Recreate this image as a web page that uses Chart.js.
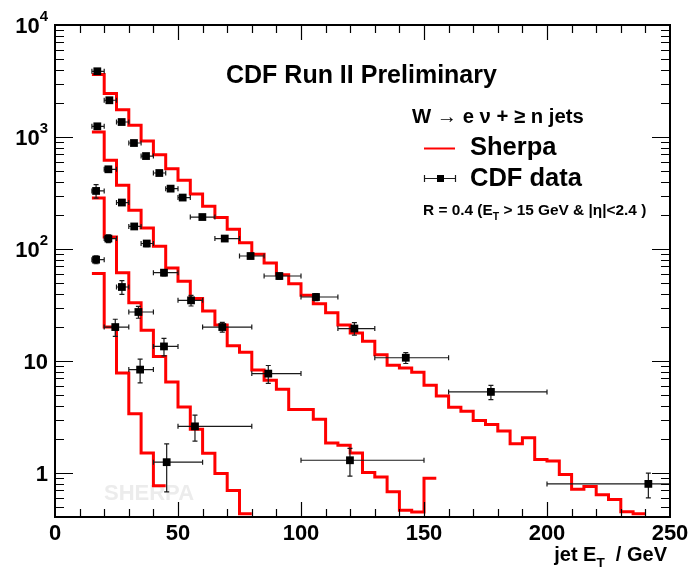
<!DOCTYPE html>
<html>
<head>
<meta charset="utf-8">
<title>jet ET spectra</title>
<script src="https://cdn.jsdelivr.net/npm/chart.js@4.4.0/dist/chart.umd.min.js"></script>
<style>
  html, body { margin: 0; padding: 0; background: #fff; }
</style>
</head>
<body>
<canvas id="etChart" width="698" height="572"></canvas>
<script>

// Sherpa histograms (value of each 5 GeV bin, bins start at the edges below)
var sherpaEdges = [15, 20, 25, 30, 35, 40, 45, 50, 55, 60, 65, 70, 75, 80, 85, 90, 95, 100, 105, 110,
	115, 120, 125, 130, 135, 140, 145, 150, 155, 160, 165, 170, 175, 180, 185, 190, 195, 200, 205, 210,
	215, 220, 225, 230, 235, 240];
var sherpa1 = [3620, 2441, 1750, 1272, 921, 695, 522, 412, 310, 241, 191, 150, 114, 90, 75, 59, 49, 38.6, 32.5, 27,
	21, 17.8, 15, 11.4, 9.15, 8.66, 7.93, 6.07, 4.88, 3.86, 3.56, 2.95, 2.71, 2.37, 1.83, 2.07, 1.32, 1.28, 0.97, 0.715,
	0.76, 0.64, 0.58, 0.45, 0.434];
var sherpa2 = [1108, 620, 371, 222, 154, 106, 67.6, 51.5, 36.1, 28, 21, 13.7, 12.0, 8.3, 6.73, 5.59, 3.70, 3.70, 3.02, 1.85,
	1.77, 1.51, 1.01, 0.92, 0.68, 0.465, 0.449, 0.90];
var sherpa3 = [285, 128, 61.5, 33.2, 18.8, 11.0, 6.49, 3.88, 2.46, 1.50, 0.99, 0.70, 0.434];
var sherpa4 = [60.3, 20.1, 7.81, 3.39, 1.51, 0.77];

// CDF data: >= 1 jet
var cdf1X   = [17.2, 22.1, 27.1, 32.1, 37.0, 42.4, 47.0, 51.9, 59.9, 69.0, 79.5, 91.2, 106.1, 121.7, 142.6, 177.2, 241.2];
var cdf1Y   = [3862, 2128, 1361, 884, 676, 477, 346, 288, 193, 124, 86.6, 57.4, 37.3, 19.5, 10.7, 5.3, 0.80];
var cdf1Err = [90, 60, 45, 30, 25, 20, 16, 14, 9, 6, 4.5, 3.5, 2.7, 2.5, 1.2, 0.77, 0.2];
var cdf1Lo  = [15, 20, 25, 30, 35, 40, 45, 50, 55, 65, 75, 85, 100, 115, 130, 160, 200];
var cdf1Hi  = [20, 25, 30, 35, 40, 45, 50, 55, 65, 75, 85, 100, 115, 130, 160, 200, 300];

// >= 2 jets
var cdf2X   = [17.2, 21.7, 27.2, 32.2, 37.3, 44.3, 55.3, 68.0, 86.7, 119.9];
var cdf2Y   = [1246, 515, 260, 159, 112, 61.5, 34.8, 20.1, 7.72, 1.30];
var cdf2Err = [40, 20, 12, 9, 7, 4, 3.8, 2, 1.4, 0.36];
var cdf2Lo  = [15, 20, 25, 30, 35, 40, 50, 60, 80, 100];
var cdf2Hi  = [20, 25, 30, 35, 40, 50, 60, 80, 100, 150];

// >= 3 jets
var cdf3X   = [16.7, 21.7, 27.2, 33.9, 44.3, 56.9];
var cdf3Y   = [330, 124, 45.8, 27.4, 13.5, 2.61];
var cdf3Err = [45, 10, 6.5, 3.3, 2.4, 0.68];
var cdf3Lo  = [15, 20, 25, 30, 40, 50];
var cdf3Hi  = [20, 25, 30, 40, 50, 80];

// >= 4 jets
var cdf4X   = [16.7, 24.5, 34.6, 45.4];
var cdf4Y   = [80.4, 20.1, 8.38, 1.25];
var cdf4Err = [6.5, 3.5, 2.0, 0.57];
var cdf4Lo  = [15, 20, 30, 40];
var cdf4Hi  = [20, 30, 40, 60];

// axis ticks
var xTickValues = [0, 50, 100, 150, 200, 250];
var xTickLabels = ['0', '50', '100', '150', '200', '250'];
var yTickValues = [1, 10, 100, 1000, 10000];
var yTickBase   = ['1', '10', '10', '10', '10'];
var yTickPower  = ['', '', '2', '3', '4'];


var FONT = '"Liberation Sans", Arial, Helvetica, sans-serif';

var cdfSets = [
	{ x: cdf1X, y: cdf1Y, err: cdf1Err, lo: cdf1Lo, hi: cdf1Hi },
	{ x: cdf2X, y: cdf2Y, err: cdf2Err, lo: cdf2Lo, hi: cdf2Hi },
	{ x: cdf3X, y: cdf3Y, err: cdf3Err, lo: cdf3Lo, hi: cdf3Hi },
	{ x: cdf4X, y: cdf4Y, err: cdf4Err, lo: cdf4Lo, hi: cdf4Hi }
];

function histPoints(vals) {
	var pts = [];
	for (var i = 0; i < vals.length; i++) {
		pts.push({ x: sherpaEdges[i], y: vals[i] });
	}
	// close the last bin
	pts.push({ x: sherpaEdges[vals.length], y: vals[vals.length - 1] });
	return pts;
}

function dataPoints(s) {
	var pts = [];
	for (var i = 0; i < s.x.length; i++) {
		pts.push({ x: s.x[i], y: s.y[i] });
	}
	return pts;
}

// draw text made of pieces, some of them sub/superscript
function richWidth(ctx, parts, size) {
	var w = 0;
	for (var i = 0; i < parts.length; i++) {
		var p = parts[i];
		ctx.font = 'bold ' + (p.sub || p.sup ? size * 0.68 : size) + 'px ' + FONT;
		w += ctx.measureText(p.t).width;
	}
	return w;
}

function drawRich(ctx, x, y, parts, size, align) {
	if (align === 'right') x -= richWidth(ctx, parts, size);
	ctx.textAlign = 'left';
	ctx.textBaseline = 'alphabetic';
	for (var i = 0; i < parts.length; i++) {
		var p = parts[i];
		var s = p.sub || p.sup ? size * 0.68 : size;
		var dy = p.sub ? size * 0.3 : (p.sup ? -size * 0.55 : 0);
		ctx.font = 'bold ' + s + 'px ' + FONT;
		ctx.fillText(p.t, x, y + dy);
		x += ctx.measureText(p.t).width;
	}
}

var watermark = {
	id: 'watermark',
	beforeDatasetsDraw: function(chart) {
		var ctx = chart.ctx;
		ctx.save();
		ctx.fillStyle = '#ececec';
		ctx.font = 'bold 22px ' + FONT;
		ctx.textAlign = 'left';
		ctx.fillText('SHERPA', 104, 500);
		ctx.restore();
	}
};

// error bars drawn just before each data set's markers
var errorBars = {
	id: 'errorBars',
	beforeDatasetDraw: function(chart, args) {
		var s = cdfSets[args.index];
		if (!s) return;
		var ctx = chart.ctx, a = chart.chartArea;
		var xs = chart.scales.x, ys = chart.scales.y;
		ctx.save();
		ctx.beginPath();
		ctx.rect(a.left, a.top, a.right - a.left, a.bottom - a.top);
		ctx.clip();
		ctx.strokeStyle = '#1a1a1a';
		ctx.lineWidth = 1.2;
		for (var i = 0; i < s.x.length; i++) {
			var px = xs.getPixelForValue(s.x[i]);
			var py = ys.getPixelForValue(s.y[i]);
			var x0 = xs.getPixelForValue(s.lo[i]);
			var x1 = xs.getPixelForValue(s.hi[i]);
			var y0 = ys.getPixelForValue(s.y[i] + s.err[i]);
			var y1 = ys.getPixelForValue(s.y[i] - s.err[i]);
			ctx.beginPath();
			ctx.moveTo(x0, py); ctx.lineTo(x1, py);
			ctx.moveTo(x0, py - 2.5); ctx.lineTo(x0, py + 2.5);
			ctx.moveTo(x1, py - 2.5); ctx.lineTo(x1, py + 2.5);
			ctx.moveTo(px, y0); ctx.lineTo(px, y1);
			ctx.moveTo(px - 2.5, y0); ctx.lineTo(px + 2.5, y0);
			ctx.moveTo(px - 2.5, y1); ctx.lineTo(px + 2.5, y1);
			ctx.stroke();
		}
		ctx.restore();
	}
};

// ROOT style frame: ticks inside on all four sides, labels and texts
var frameAxes = {
	id: 'frameAxes',
	afterDraw: function(chart) {
		var ctx = chart.ctx, a = chart.chartArea;
		var xs = chart.scales.x, ys = chart.scales.y;
		ctx.save();
		ctx.strokeStyle = '#000';
		ctx.fillStyle = '#000';

		// x ticks, every 10 GeV, longer every 50
		ctx.lineWidth = 1.2;
		ctx.beginPath();
		for (var v = 10; v < 250; v += 10) {
			var px = Math.round(xs.getPixelForValue(v)) + 0.5;
			var len = v % 50 === 0 ? 15 : 8;
			ctx.moveTo(px, a.bottom); ctx.lineTo(px, a.bottom - len);
			ctx.moveTo(px, a.top); ctx.lineTo(px, a.top + len);
		}
		// y ticks, decades and 2..9
		for (var d = -1; d <= 4; d++) {
			for (var m = 1; m <= 9; m++) {
				var val = m * Math.pow(10, d);
				if (val < ys.min || val > ys.max) continue;
				var py = Math.round(ys.getPixelForValue(val)) + 0.5;
				var l = m === 1 ? 18 : 9;
				ctx.moveTo(a.left, py); ctx.lineTo(a.left + l, py);
				ctx.moveTo(a.right, py); ctx.lineTo(a.right - l, py);
			}
		}
		ctx.stroke();

		ctx.lineWidth = 2;
		ctx.strokeRect(a.left, a.top, a.right - a.left, a.bottom - a.top);

		// x labels
		ctx.font = 'bold 22px ' + FONT;
		ctx.textAlign = 'center';
		ctx.textBaseline = 'alphabetic';
		for (var i = 0; i < xTickValues.length; i++) {
			ctx.fillText(xTickLabels[i], xs.getPixelForValue(xTickValues[i]), 540);
		}

		// y labels
		for (var j = 0; j < yTickValues.length; j++) {
			var yy = ys.getPixelForValue(yTickValues[j]) + 8;
			var parts = [{ t: yTickBase[j] }];
			if (yTickPower[j]) parts.push({ t: yTickPower[j], sup: true });
			drawRich(ctx, 48, yy, parts, 22, 'right');
		}

		// axis title
		drawRich(ctx, 667, 561, [{ t: 'jet E' }, { t: 'T', sub: true }, { t: '  / GeV' }], 20, 'right');

		// header and legend
		drawRich(ctx, 226, 83, [{ t: 'CDF Run II Preliminary' }], 25);
		drawRich(ctx, 412, 123, [{ t: 'W \u2192 e \u03bd + \u2265 n jets' }], 20.3);
		drawRich(ctx, 470, 155, [{ t: 'Sherpa' }], 25.5);
		drawRich(ctx, 470, 186, [{ t: 'CDF data' }], 25.5);
		drawRich(ctx, 423, 215, [{ t: 'R = 0.4 (E' }, { t: 'T', sub: true }, { t: ' > 15 GeV & |\u03b7|<2.4 )' }], 15.4);

		// legend symbols
		ctx.strokeStyle = '#ff0000';
		ctx.lineWidth = 2;
		ctx.beginPath();
		ctx.moveTo(424, 148.5); ctx.lineTo(455, 148.5);
		ctx.stroke();

		ctx.strokeStyle = '#1a1a1a';
		ctx.lineWidth = 1.2;
		ctx.beginPath();
		ctx.moveTo(424, 178.5); ctx.lineTo(456, 178.5);
		ctx.moveTo(424.5, 175); ctx.lineTo(424.5, 182);
		ctx.moveTo(455.5, 175); ctx.lineTo(455.5, 182);
		ctx.stroke();
		ctx.fillStyle = '#000';
		ctx.fillRect(437, 175, 7, 7);

		ctx.restore();
	}
};

var datasets = [];
for (var k = 0; k < cdfSets.length; k++) {
	datasets.push({
		label: 'CDF data',
		data: dataPoints(cdfSets[k]),
		showLine: false,
		pointStyle: 'rect',
		pointRadius: 5.5,
		pointBorderWidth: 0,
		backgroundColor: '#000',
		borderColor: '#000'
	});
}
var sherpaAll = [sherpa1, sherpa2, sherpa3, sherpa4];
for (var h = 0; h < sherpaAll.length; h++) {
	datasets.push({
		label: 'Sherpa',
		data: histPoints(sherpaAll[h]),
		// Chart.js 'before' = horizontal at the previous value, then the step
		stepped: 'before',
		borderColor: '#ff0000',
		borderWidth: 3,
		pointRadius: 0,
		fill: false
	});
}

var ctx = document.getElementById('etChart');

var etChart = new Chart(ctx, {
	type: 'line',
	data: { datasets: datasets },
	plugins: [watermark, errorBars, frameAxes],
	options: {
		responsive: false,
		animation: false,
		layout: { padding: { left: 55, right: 28, top: 25, bottom: 55 } },
		plugins: {
			legend: { display: false },
			tooltip: { enabled: false }
		},
		scales: {
			x: { type: 'linear', min: 0, max: 250, display: false },
			y: { type: 'logarithmic', min: 0.405, max: 10000, display: false }
		}
	}
});

</script>
</body>
</html>
